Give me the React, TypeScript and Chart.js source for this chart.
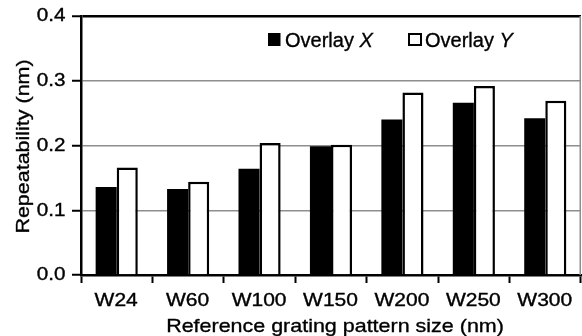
import React, { useEffect, useRef } from 'react';
import { Chart, registerables } from 'chart.js';

Chart.register(...registerables);

// ---- data ----
const categories = ['W24', 'W60', 'W100', 'W150', 'W200', 'W250', 'W300'];
const overlayX = [0.136, 0.133, 0.164, 0.199, 0.24, 0.266, 0.242];
const overlayY = [0.166, 0.144, 0.204, 0.201, 0.282, 0.292, 0.269];
const seriesNames = ['Overlay', 'Overlay'];
const seriesVars = ['X', 'Y'];
const yTickValues = [0, 0.1, 0.2, 0.3, 0.4];
const xTitle = 'Reference grating pattern size (nm)';
const yTitle = 'Repeatability (nm)';

const FONT = '"Liberation Sans", Arial, Helvetica, sans-serif';
const GRID_GREY = '#8e8e8e';

type TextOpts = {
  size: number;
  sx: number;
  align?: CanvasTextAlign;
  baseline?: CanvasTextBaseline;
  italic?: boolean;
  rotate?: number;
};

function drawText(ctx: CanvasRenderingContext2D, text: string, x: number, y: number, o: TextOpts) {
  ctx.save();
  ctx.translate(x, y);
  if (o.rotate) ctx.rotate(o.rotate);
  ctx.scale(o.sx, 1);
  ctx.font = `${o.italic ? 'italic ' : ''}${o.size}px ${FONT}`;
  ctx.textAlign = o.align || 'left';
  ctx.textBaseline = o.baseline || 'alphabetic';
  ctx.fillStyle = '#000';
  ctx.strokeStyle = '#000';
  ctx.lineWidth = 0.35;
  ctx.fillText(text, 0, 0);
  ctx.strokeText(text, 0, 0);
  ctx.restore();
}

function textWidth(ctx: CanvasRenderingContext2D, text: string, o: TextOpts) {
  ctx.save();
  ctx.font = `${o.italic ? 'italic ' : ''}${o.size}px ${FONT}`;
  const w = ctx.measureText(text).width * o.sx;
  ctx.restore();
  return w;
}

const decorPlugin = {
  id: 'decor',
  afterDraw(chart: any) {
    const ctx: CanvasRenderingContext2D = chart.ctx;
    const ca = chart.chartArea;
    const xs = chart.scales.x;
    const ys = chart.scales.y;

    // right frame line (grey)
    ctx.save();
    ctx.strokeStyle = GRID_GREY;
    ctx.lineWidth = 1.5;
    ctx.beginPath();
    ctx.moveTo(ca.right - 0.75, ca.top);
    ctx.lineTo(ca.right - 0.75, ca.bottom);
    ctx.stroke();
    ctx.restore();

    // y tick labels
    const tickOpts: TextOpts = { size: 17.5, sx: 1.18, align: 'right', baseline: 'middle' };
    ys.ticks.forEach((t: any) => {
      const py = ys.getPixelForValue(t.value);
      drawText(ctx, Number(t.value).toFixed(1), ca.left - 15.5, py + 0.5, tickOpts);
    });

    // x tick labels
    const xOpts: TextOpts = { size: 17.5, sx: 1.2, align: 'center', baseline: 'alphabetic' };
    categories.forEach((c, i) => {
      const px = xs.getPixelForValue(i);
      drawText(ctx, c, px - 0.5, ca.bottom + 30.5, xOpts);
    });

    // axis titles
    drawText(ctx, xTitle, (ca.left + ca.right) / 2 + 4, ca.bottom + 56.5, {
      size: 19, sx: 1.13, align: 'center', baseline: 'alphabetic',
    });
    drawText(ctx, yTitle, 29, (ca.top + ca.bottom) / 2 + 1, {
      size: 19, sx: 1.13, align: 'center', baseline: 'alphabetic', rotate: -Math.PI / 2,
    });

    // legend
    const legendX = [ca.left + 187, ca.left + 327];
    const boxTop = ca.top + 17;
    const lOpts: TextOpts = { size: 20, sx: 1.0, baseline: 'alphabetic' };
    seriesNames.forEach((name, i) => {
      const bx = legendX[i];
      ctx.save();
      if (i === 0) {
        ctx.fillStyle = '#000';
        ctx.fillRect(bx, boxTop, 12.5, 13);
      } else {
        ctx.fillStyle = '#fff';
        ctx.fillRect(bx, boxTop, 13, 13);
        ctx.strokeStyle = '#000';
        ctx.lineWidth = 2;
        ctx.strokeRect(bx + 1, boxTop + 1, 12, 11);
      }
      ctx.restore();
      const tx = bx + 17;
      const ty = boxTop + 13.5;
      const prefix = name + ' ';
      drawText(ctx, prefix, tx, ty, lOpts);
      const w = textWidth(ctx, prefix, lOpts);
      drawText(ctx, seriesVars[i], tx + w, ty, { ...lOpts, italic: true });
    });
  },
};

export default function App() {
  const canvasRef = useRef<HTMLCanvasElement | null>(null);

  useEffect(() => {
    const canvas = canvasRef.current;
    if (!canvas) return;
    const chart = new Chart(canvas, {
      type: 'bar',
      data: {
        labels: categories,
        datasets: [
          {
            label: seriesNames[0] + ' ' + seriesVars[0],
            data: overlayX,
            backgroundColor: '#000',
            borderColor: '#000',
            borderWidth: 0,
            categoryPercentage: 0.59,
            barPercentage: 1.0,
          },
          {
            label: seriesNames[1] + ' ' + seriesVars[1],
            data: overlayY,
            backgroundColor: '#fff',
            borderColor: '#000',
            borderWidth: 2.5,
            categoryPercentage: 0.59,
            barPercentage: 1.0,
          },
        ],
      },
      options: {
        responsive: false,
        animation: false,
        layout: { padding: { left: 72, top: 16, right: 1, bottom: 53 } },
        plugins: {
          legend: { display: false },
          tooltip: { enabled: false },
          title: { display: false },
        },
        scales: {
          x: {
            type: 'category',
            offset: true,
            grid: {
              offset: true,
              drawOnChartArea: false,
              drawTicks: true,
              tickLength: 8,
              tickColor: '#000',
              tickWidth: 2,
            },
            border: { display: true, color: '#000', width: 2.5 },
            ticks: { display: false },
            title: { display: false },
          },
          y: {
            type: 'linear',
            min: 0,
            max: 0.4,
            afterBuildTicks: (scale: any) => {
              scale.ticks = yTickValues.map((v) => ({ value: v }));
            },
            grid: {
              drawTicks: true,
              tickLength: 9,
              tickColor: '#000',
              tickWidth: 2,
              color: (c: any) => (c.tick && Math.abs(c.tick.value - 0.4) < 1e-9 ? '#000' : GRID_GREY),
              lineWidth: (c: any) => (c.tick && Math.abs(c.tick.value - 0.4) < 1e-9 ? 2.5 : 1.5),
            },
            border: { display: true, color: '#000', width: 2.5 },
            ticks: { display: false },
            title: { display: false },
          },
        },
      },
      plugins: [decorPlugin],
    });
    return () => chart.destroy();
  }, []);

  return (
    <div style={{ position: 'absolute', left: 0, top: 0, width: 582, height: 336, background: '#fff' }}>
      <canvas ref={canvasRef} width={582} height={336} style={{ display: 'block', width: 582, height: 336 }} />
    </div>
  );
}
